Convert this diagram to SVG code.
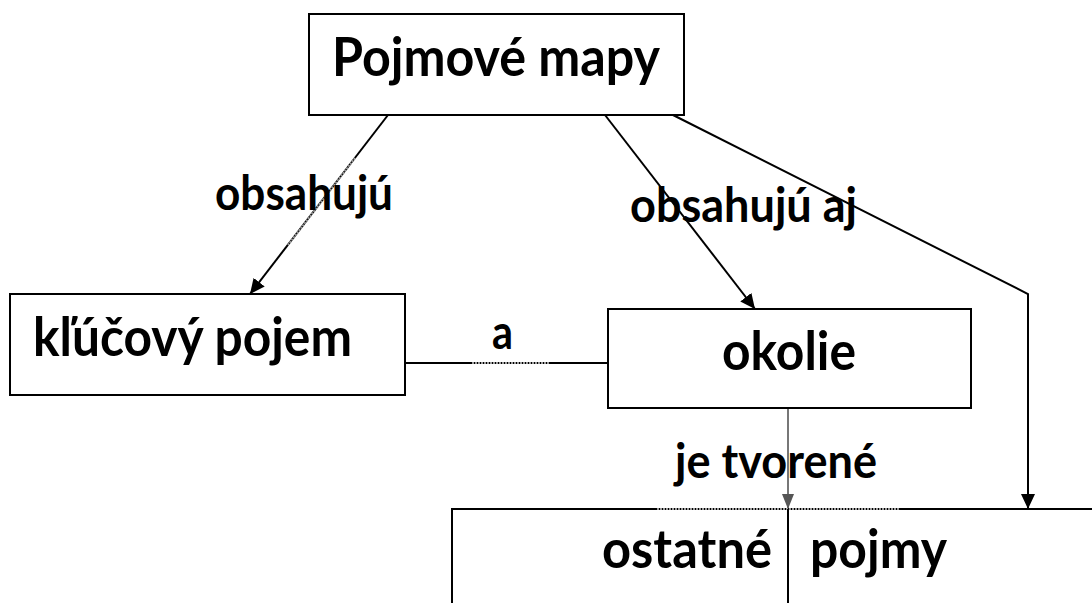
<svg xmlns="http://www.w3.org/2000/svg" width="1092" height="603" viewBox="0 0 1092 603">
<style>
  .box { fill: #ffffff; stroke: #000000; stroke-width: 2; }
  .node { font-family: Lato, "Liberation Sans", sans-serif; font-weight: bold; font-size: 54px; fill: #000000; }
  .lbl { font-family: Lato, "Liberation Sans", sans-serif; font-weight: bold; font-size: 48px; fill: #000000; }
  .conn { fill: none; stroke: #000000; stroke-width: 2; }
  .faint { fill: none; stroke: #9a9a9a; stroke-width: 2; stroke-dasharray: 2 1; }
</style>
<defs>
  <marker id="arrow" viewBox="0 0 16 16" markerWidth="16" markerHeight="16" refX="15" refY="8" orient="auto" markerUnits="userSpaceOnUse">
    <path d="M0,1 L15,8 L0,15 z" fill="#000000"/>
  </marker>
  <marker id="arrowGray" viewBox="0 0 16 16" markerWidth="16" markerHeight="16" refX="15" refY="8" orient="auto" markerUnits="userSpaceOnUse">
    <path d="M0,2 L15,8 L0,14 z" fill="#555555"/>
  </marker>
</defs>

<rect width="1092" height="603" fill="#ffffff"/>

<g id="connectors">
  <line class="conn" x1="388" y1="115" x2="250" y2="294" marker-end="url(#arrow)"/>
  <line class="faint" x1="355" y1="158" x2="288" y2="245"/>
  <line class="conn" x1="605" y1="115" x2="755" y2="309" marker-end="url(#arrow)"/>
  <polyline class="conn" points="673,115 1028,294 1028,509" marker-end="url(#arrow)"/>
  <line class="conn" x1="405" y1="363" x2="608" y2="363"/>
  <line class="faint" x1="472" y1="363" x2="550" y2="363"/>
  <line x1="788" y1="408" x2="788" y2="509" style="stroke:#555555;stroke-width:1.6" marker-end="url(#arrowGray)"/>
</g>

<g id="node-pojmove-mapy">
  <rect class="box" x="309" y="14" width="375" height="101"/>
  <text class="node" x="332" y="76" textLength="328" lengthAdjust="spacingAndGlyphs">Pojmové mapy</text>
</g>

<g id="node-klucovy-pojem">
  <rect class="box" x="10" y="294" width="395" height="101"/>
  <text class="node" x="33" y="356" textLength="319" lengthAdjust="spacingAndGlyphs">kľúčový pojem</text>
</g>

<g id="node-okolie">
  <rect class="box" x="608" y="309" width="363" height="99"/>
  <text class="node" x="722" y="370" textLength="134" lengthAdjust="spacingAndGlyphs">okolie</text>
</g>

<g id="node-ostatne-pojmy">
  <rect class="box" x="452" y="509" width="700" height="150"/>
  <line class="faint" x1="657" y1="509" x2="900" y2="509"/>
  <line class="conn" x1="788" y1="509" x2="788" y2="603"/>
  <text class="node" x="602" y="568" textLength="170" lengthAdjust="spacingAndGlyphs">ostatné</text>
  <text class="node" x="810" y="568" textLength="137" lengthAdjust="spacingAndGlyphs">pojmy</text>
</g>

<g id="labels">
  <text class="lbl" x="215" y="210" textLength="178" lengthAdjust="spacingAndGlyphs">obsahujú</text>
  <text class="lbl" x="630" y="222" textLength="227" lengthAdjust="spacingAndGlyphs">obsahujú aj</text>
  <text class="lbl" x="492" y="349" textLength="21" lengthAdjust="spacingAndGlyphs">a</text>
  <text class="lbl" x="675" y="478" textLength="202" lengthAdjust="spacingAndGlyphs">je tvorené</text>
</g>
</svg>
